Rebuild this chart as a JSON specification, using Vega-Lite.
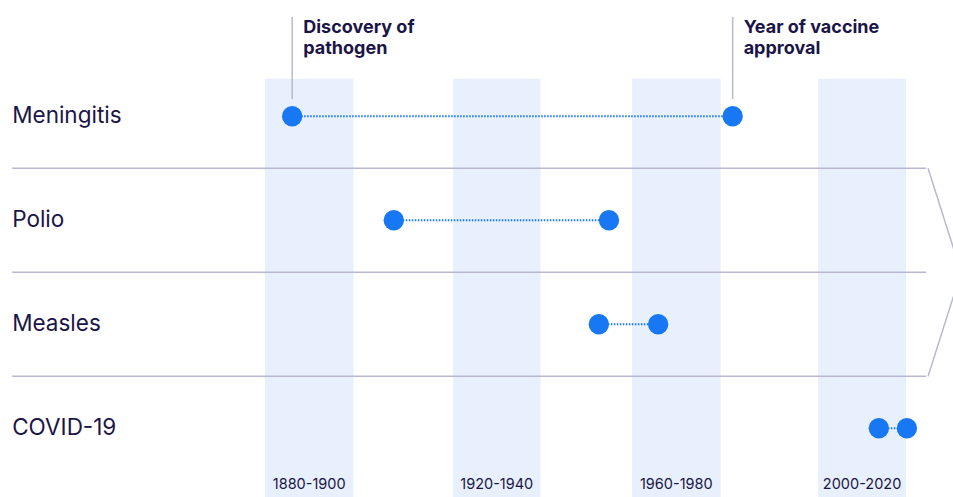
{
  "$schema": "https://vega.github.io/schema/vega-lite/v6.json",
  "width": 953,
  "height": 497,
  "autosize": {"type": "none"},
  "padding": 0,
  "background": "white",
  "config": {
    "view": {"stroke": null},
    "font": "Inter",
    "text": {"font": "Inter"}
  },
  "datasets": {
    "diseases": [
      {"disease": "Meningitis", "row": 0, "discovery": 1885.5, "approval": 1981.3},
      {"disease": "Polio", "row": 1, "discovery": 1907.6, "approval": 1954.4},
      {"disease": "Measles", "row": 2, "discovery": 1952.2, "approval": 1965.1},
      {"disease": "COVID-19", "row": 3, "discovery": 2013.1, "approval": 2019.2}
    ],
    "bands": [
      {"label": "1880-1900", "start": 1879.6, "end": 1898.8},
      {"label": "1920-1940", "start": 1920.5, "end": 1939.5},
      {"label": "1960-1980", "start": 1959.4, "end": 1978.7},
      {"label": "2000-2020", "start": 1999.9, "end": 2019.0}
    ],
    "separators": [{"b": 0.5}, {"b": 1.5}, {"b": 2.5}],
    "chevron": [
      {"x": 2023.8, "y": 0.5},
      {"x": 2031.0, "y": 1.5},
      {"x": 2023.8, "y": 2.5}
    ],
    "notes": [
      {"note": ["Discovery of", "pathogen"], "year": 1885.5},
      {"note": ["Year of vaccine", "approval"], "year": 1981.3}
    ]
  },
  "layer": [
    {
      "data": {"name": "bands"},
      "mark": {"type": "rect", "color": "#E7F0FC"},
      "encoding": {
        "x": {"field": "start", "type": "quantitative", "scale": {"domain": [1821.95, 2029.23], "nice": false, "zero": false}, "axis": null},
        "x2": {"field": "end"},
        "y": {"datum": -0.36, "type": "quantitative", "scale": {"domain": [-1.1183, 3.6606], "nice": false, "zero": false, "reverse": true}, "axis": null},
        "y2": {"datum": 3.7}
      }
    },
    {
      "data": {"name": "bands"},
      "transform": [{"calculate": "(datum.start + datum.end) / 2", "as": "mid"}],
      "mark": {"type": "text", "fontSize": 14.5, "color": "#1b1547", "align": "center", "baseline": "alphabetic"},
      "encoding": {
        "x": {"field": "mid", "type": "quantitative"},
        "y": {"datum": 3.584, "type": "quantitative"},
        "text": {"field": "label"}
      }
    },
    {
      "data": {"name": "separators"},
      "mark": {"type": "rule", "color": "#B9B8D0", "strokeWidth": 1.5},
      "encoding": {
        "x": {"datum": 1824.6, "type": "quantitative"},
        "x2": {"datum": 2023.4},
        "y": {"field": "b", "type": "quantitative"}
      }
    },
    {
      "data": {"name": "chevron"},
      "mark": {"type": "line", "color": "#B9B8D0", "strokeWidth": 1.5},
      "encoding": {
        "x": {"field": "x", "type": "quantitative"},
        "y": {"field": "y", "type": "quantitative"},
        "order": {"field": "y"}
      }
    },
    {
      "data": {"name": "notes"},
      "mark": {"type": "rule", "color": "#B9B8D0", "strokeWidth": 1.5},
      "encoding": {
        "x": {"field": "year", "type": "quantitative"},
        "y": {"datum": -0.955, "type": "quantitative"},
        "y2": {"datum": -0.166}
      }
    },
    {
      "data": {"name": "notes"},
      "mark": {"type": "text", "fontSize": 18, "fontWeight": "bold", "color": "#1b1547", "align": "left", "baseline": "alphabetic", "dx": 11, "lineHeight": 21},
      "encoding": {
        "x": {"field": "year", "type": "quantitative"},
        "y": {"datum": -0.804, "type": "quantitative"},
        "text": {"field": "note"}
      }
    },
    {
      "data": {"name": "diseases"},
      "mark": {"type": "text", "fontSize": 22.5, "color": "#1b1547", "align": "left", "baseline": "middle"},
      "encoding": {
        "x": {"datum": 1824.6, "type": "quantitative"},
        "y": {"field": "row", "type": "quantitative"},
        "text": {"field": "disease"}
      }
    },
    {
      "data": {"name": "diseases"},
      "mark": {"type": "rule", "color": "#1877F2", "strokeWidth": 2, "strokeDash": [1.5, 1.5]},
      "encoding": {
        "x": {"field": "discovery", "type": "quantitative"},
        "x2": {"field": "approval"},
        "y": {"field": "row", "type": "quantitative"}
      }
    },
    {
      "data": {"name": "diseases"},
      "mark": {"type": "circle", "color": "#1877F2", "opacity": 1, "size": 415},
      "encoding": {
        "x": {"field": "discovery", "type": "quantitative"},
        "y": {"field": "row", "type": "quantitative"}
      }
    },
    {
      "data": {"name": "diseases"},
      "mark": {"type": "circle", "color": "#1877F2", "opacity": 1, "size": 415},
      "encoding": {
        "x": {"field": "approval", "type": "quantitative"},
        "y": {"field": "row", "type": "quantitative"}
      }
    }
  ]
}
